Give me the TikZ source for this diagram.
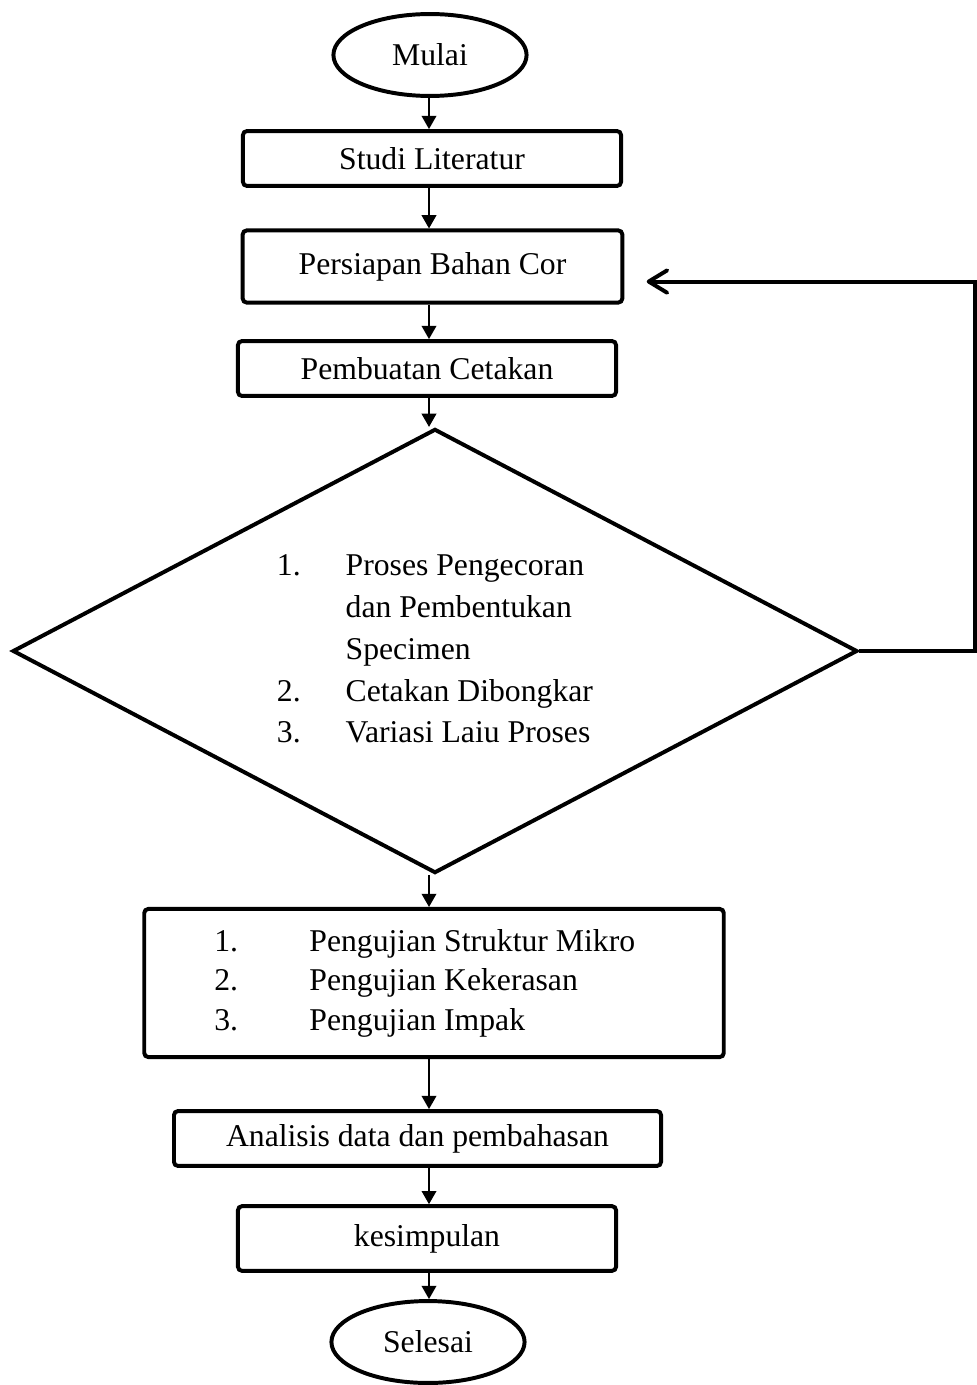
\documentclass[tikz,border=0pt]{standalone}
\usepackage{fontspec}
\setmainfont{Liberation Serif}
\usetikzlibrary{positioning,arrows.meta,shapes.geometric}

\begin{document}
\begin{tikzpicture}[
  x=0.0133cm, y=-0.0133cm,
  font=\fontsize{12pt}{14.5pt}\selectfont,
  flowbox/.style={rectangle, draw, line width=1.5pt, rounded corners=1.5pt,
                  align=center, inner sep=0pt},
  term/.style={ellipse, draw, line width=1.5pt, minimum width=2.57cm,
               minimum height=1.09cm, inner sep=0pt},
  decide/.style={diamond, aspect=1.9, draw, line width=1.5pt,
                 minimum width=11.24cm, minimum height=5.91cm, inner sep=0pt},
  arr/.style={-{Triangle[length=5pt,width=5.5pt]}, line width=0.75pt},
  loopback/.style={-{Straight Barb[length=7pt,width=8.5pt,round]},
                   line width=1.5pt, shorten >=8.5pt}
]
\useasboundingbox (0,0) rectangle (977,1385);

\node[term] (mulai) at (430,55) {Mulai};
\node[flowbox, minimum width=5.03cm, minimum height=0.73cm] (studi)
  at (432,158.5) {Studi Literatur};
\node[flowbox, minimum width=5.05cm, minimum height=0.96cm] (bahan)
  at (432.5,266.5) {Persiapan Bahan Cor};
\node[flowbox, minimum width=5.03cm, minimum height=0.73cm] (cetak)
  at (427,368.5) {Pembuatan Cetakan};

\node[decide] (cor) at (435,651)
  {\renewcommand{\arraystretch}{1.09}%
   \begin{tabular}{@{}p{26pt}@{}l@{}}
   1. & Proses Pengecoran\\
      & dan Pembentukan\\
      & Specimen\\
   2. & Cetakan Dibongkar\\
   3. & Variasi Laiu Proses
   \end{tabular}};

\node[flowbox, minimum width=7.71cm, minimum height=1.97cm] (uji) at (434,983)
  {\renewcommand{\arraystretch}{1.04}%
   \begin{tabular}{@{}p{36pt}@{}l@{}}
   1. & Pengujian Struktur Mikro\\
   2. & Pengujian Kekerasan\\
   3. & Pengujian Impak
   \end{tabular}\hspace*{7pt}};

\node[flowbox, minimum width=6.48cm, minimum height=0.73cm] (analisis)
  at (417.5,1138.5) {Analisis data dan pembahasan};
\node[flowbox, minimum width=5.03cm, minimum height=0.86cm] (simpul)
  at (427,1238.5) {kesimpulan};
\node[term] (selesai) at (428,1342) {Selesai};

%% main flow, all on one vertical line
\coordinate (spine) at (429,0);
\foreach \a/\b in {mulai/studi, studi/bahan, bahan/cetak, cetak/cor,
                   cor/uji, uji/analisis, analisis/simpul, simpul/selesai}
  \draw[arr] (spine |- \a.south) -- (spine |- \b.north);

%% loop back to bahan
\coordinate (rim) at (975,0);
\draw[loopback] (cor.east) -- (cor.east -| rim) |- ([yshift=-5.7pt]bahan.east);

\end{tikzpicture}
\end{document}
